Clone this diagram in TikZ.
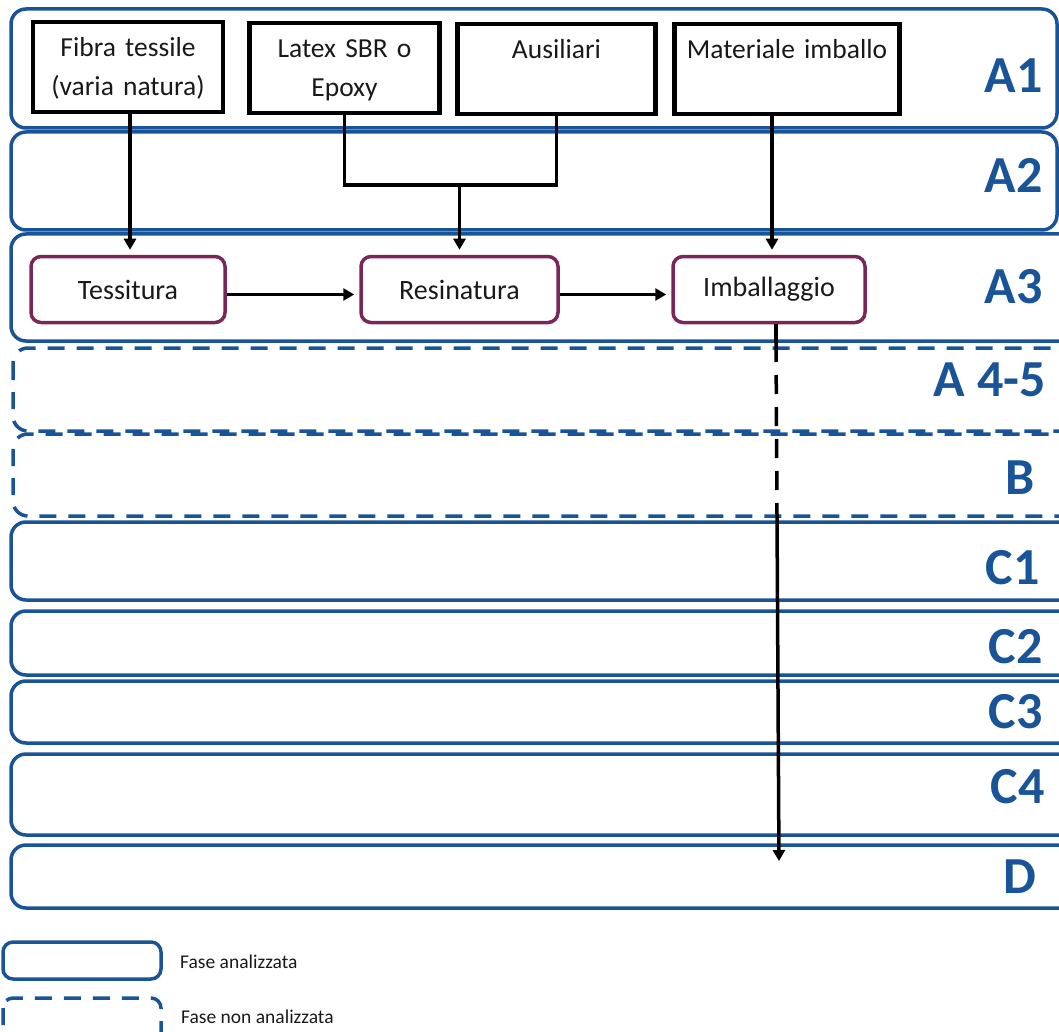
\documentclass[tikz,border=0pt]{standalone}
\usepackage{fontspec}
\setmainfont{Carlito}
\usetikzlibrary{arrows.meta}
\definecolor{bandblue}{RGB}{26,84,152}
\definecolor{procpurple}{RGB}{122,38,88}
\definecolor{txtgray}{RGB}{25,25,25}
\begin{document}
\begin{tikzpicture}[x=1pt,y=-1pt,
  band/.style={draw=bandblue, line width=3.5pt, rounded corners=15pt},
  bandd/.style={band, dash pattern=on 17pt off 12pt},
  lbl/.style={text=bandblue, font=\fontsize{52}{52}\selectfont\bfseries, anchor=east, inner sep=0pt},
  inbox/.style={draw=black, line width=4.5pt, inner sep=0pt, text height=35pt, text depth=55pt, align=center, text=txtgray, font=\fontsize{27.5}{39}\selectfont},
  proc/.style={draw=procpurple, line width=3.5pt, rounded corners=10pt, minimum height=66pt, inner sep=0pt, text=txtgray, font=\fontsize{28}{32}\selectfont},
  conn/.style={draw=black, line width=3.5pt},
  arr/.style={conn, -{Triangle[length=11pt,width=12pt]}, shorten >=5pt},
  legtxt/.style={anchor=west, inner sep=0pt, text=txtgray, font=\fontsize{19.5}{22}\selectfont}
]
\useasboundingbox (0,0) rectangle (1059,1032);

% phase bands
\draw[band] (11,9) rectangle (1057,128);
\draw[band] (11,132) rectangle (1057,230);
\draw[band] (11,234) rectangle (1075,341);
\draw[bandd] (13,348) rectangle (1075,431);
\draw[bandd] (13,434) rectangle (1075,516);
\draw[band] (11,522) rectangle (1075,600);
\draw[band] (11,611) rectangle (1075,675);
\draw[band] (11,681) rectangle (1075,743);
\draw[band] (11,754) rectangle (1075,835);
\draw[band] (11,845) rectangle (1075,908);

% phase labels
\node[lbl] (lA1) at (1043,76) {A1};
\node[lbl] (lA2) at (1043,175) {A2};
\node[lbl] (lA3) at (1043,287) {A3};
\node[lbl] (lA45) at (1046,380) {A 4-5};
\node[lbl] (lB) at (1035,478) {B};
\node[lbl] (lC1) at (1040,568) {C1};
\node[lbl] (lC2) at (1043,647) {C2};
\node[lbl] (lC3) at (1043,712) {C3};
\node[lbl] (lC4) at (1045,787) {C4};
\node[lbl] (lD) at (1036,877) {D};

% input boxes
\node[inbox, text width=190pt] (fibra) at (128,67) {Fibra tessile\\(varia natura)};
\node[inbox, text width=190pt] (latex) at (344.5,68) {Latex SBR o\\Epoxy};
\node[inbox, text width=198pt] (aus) at (556.5,69) {Ausiliari};
\node[inbox, text width=225pt] (mat) at (787,69) {Materiale imballo};

% process boxes
\node[proc, minimum width=194pt] (tess) at (128,289.5) {Tessitura};
\node[proc, minimum width=197pt] (resin) at (459.5,289.5) {Resinatura};
\node[proc, minimum width=192pt] (imb) at (769,289.5) {Imballaggio};

% connectors
\coordinate (j) at (459.5,185);
\draw[arr] (fibra.south -| 130,0) -- (tess.north -| 130,0);
\draw[conn] (latex.south) -- (latex.south |- j) -- (aus.south |- j) -- (aus.south);
\draw[arr] (j) -- (resin.north);
\draw[arr] (mat.south -| 772,0) -- (resin.north -| 772,0);
\draw[arr] ([yshift=-5pt]tess.east) -- ([yshift=-5pt]resin.west);
\draw[arr] ([yshift=-5pt]resin.east) -- ([yshift=-5pt]imb.west);

\coordinate (d1) at (776,343);
\coordinate (d2) at (777,516);
\coordinate (dend) at (779,866);
\draw[conn] (imb.south -| d1) -- (d1);
\draw[conn, dash pattern=on 19pt off 13pt] (d1) -- (d2);
\draw[arr] (d2) -- (dend);

% legend
\draw[band, rounded corners=10pt] (3,942) rectangle (161,979);
\node[legtxt] (leg1) at (180,962) {Fase analizzata};
\draw[bandd, rounded corners=10pt] (3,998) rectangle (161,1050);
\node[legtxt] (leg2) at (181,1017) {Fase non analizzata};
\end{tikzpicture}
\end{document}
